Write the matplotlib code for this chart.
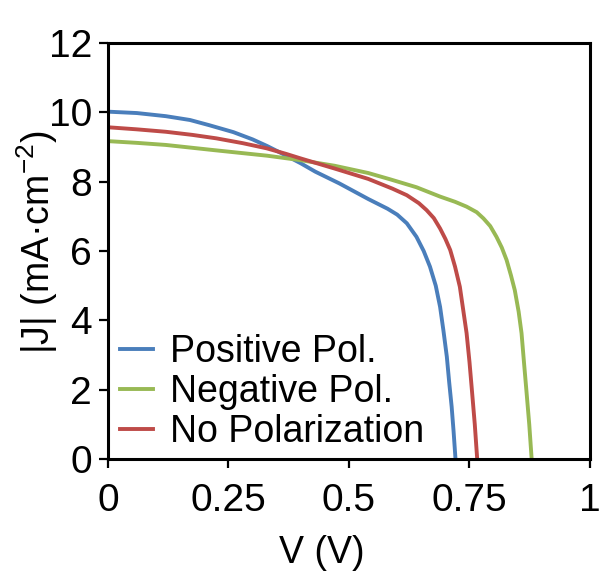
"""J-V curves for the three polarization states, saved to out.png."""

import matplotlib

matplotlib.use("Agg")
import matplotlib.pyplot as plt

# values
v_positive = [0.0, 0.06, 0.12, 0.17, 0.21, 0.26, 0.30, 0.33, 0.36, 0.40,
              0.43, 0.48, 0.54, 0.58, 0.60, 0.62, 0.64, 0.655, 0.668, 0.68,
              0.689, 0.696, 0.703, 0.708, 0.713, 0.717, 0.721]
j_positive = [10.02, 9.98, 9.89, 9.78, 9.63, 9.43, 9.22, 9.03, 8.82, 8.53,
              8.29, 7.95, 7.50, 7.22, 7.05, 6.80, 6.41, 6.00, 5.55, 5.00,
              4.39, 3.70, 2.95, 2.20, 1.51, 0.80, 0.0]

v_negative = [0.0, 0.06, 0.12, 0.22, 0.33, 0.40, 0.47, 0.54, 0.585, 0.64,
              0.689, 0.72, 0.744, 0.765, 0.779, 0.793, 0.806, 0.817, 0.827,
              0.836, 0.844, 0.852, 0.858, 0.863, 0.868, 0.874, 0.879]
j_negative = [9.17, 9.12, 9.06, 8.91, 8.75, 8.62, 8.46, 8.25, 8.07, 7.84,
              7.57, 7.42, 7.28, 7.12, 6.94, 6.72, 6.41, 6.10, 5.74,
              5.30, 4.87, 4.25, 3.63, 2.80, 1.99, 1.00, 0.0]

v_none = [0.0, 0.06, 0.12, 0.175, 0.225, 0.28, 0.33, 0.37, 0.40, 0.47,
          0.54, 0.59, 0.62, 0.645, 0.661, 0.676, 0.689, 0.70, 0.71, 0.72,
          0.73, 0.737, 0.744, 0.75, 0.755, 0.761, 0.766]
j_none = [9.57, 9.51, 9.44, 9.35, 9.25, 9.11, 8.96, 8.80, 8.67, 8.38,
          8.08, 7.80, 7.61, 7.38, 7.18, 6.95, 6.65, 6.35, 6.03, 5.55,
          4.97, 4.30, 3.63, 2.80, 1.99, 1.00, 0.0]

labels = ["Positive Pol.", "Negative Pol.", "No Polarization"]
colors = ["#4A7EBB", "#98B954", "#BE4B48"]

x_ticks = [0, 0.25, 0.5, 0.75, 1]
x_tick_labels = ["0", "0.25", "0.5", "0.75", "1"]
y_ticks = [0, 2, 4, 6, 8, 10, 12]

plt.rcParams["font.family"] = ["Liberation Sans", "DejaVu Sans"]
plt.rcParams["mathtext.fontset"] = "custom"
plt.rcParams["mathtext.rm"] = "Liberation Sans"
plt.rcParams["mathtext.it"] = "Liberation Sans"

fig = plt.figure(figsize=(6.03, 5.76), dpi=100)
ax = fig.add_axes([0.1791, 0.2031, 0.7993, 0.7222])

series = [(v_positive, j_positive), (v_negative, j_negative), (v_none, j_none)]
for (v, j), label, color in zip(series, labels, colors):
    ax.plot(v, j, color=color, lw=2.8, label=label, solid_joinstyle="round")

ax.set_xlim(0, 1)
ax.set_ylim(0, 12)
ax.set_xticks(x_ticks)
ax.set_xticklabels(x_tick_labels)
ax.set_yticks(y_ticks)

for spine in ax.spines.values():
    spine.set_linewidth(2.2)
    spine.set_color("black")

ax.tick_params(axis="both", direction="out", length=6.5, width=1.6,
               labelsize=28, top=False, right=False)
ax.tick_params(axis="x", pad=11)
ax.tick_params(axis="y", pad=5)

ax.set_xlabel("V (V)", fontsize=27)
ax.set_ylabel("|J| (mA·cm$^{-2}$)", fontsize=27)
ax.xaxis.set_label_coords(0.444, -0.183)
ax.yaxis.set_label_coords(-0.10, 0.52)

ax.legend(loc="lower left", bbox_to_anchor=(0.025, 0.022), frameon=False,
          fontsize=27, handlelength=0.88, handletextpad=0.45,
          labelspacing=0.1, borderpad=0, borderaxespad=0)

fig.savefig("out.png", dpi=100)
